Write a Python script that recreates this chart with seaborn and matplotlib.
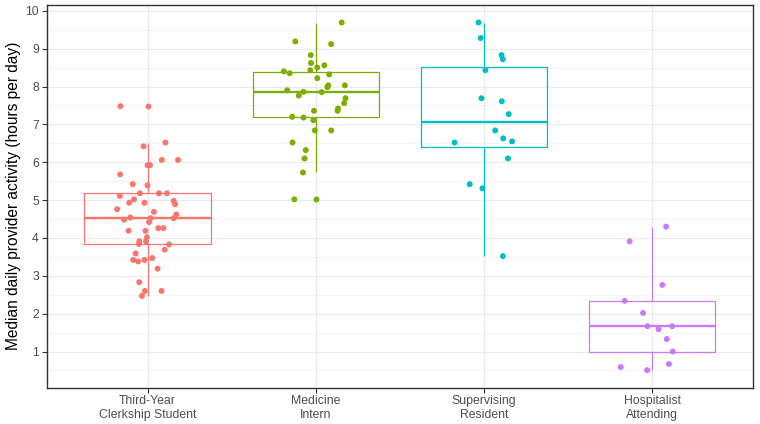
import numpy as np
import pandas as pd
import seaborn as sns
import matplotlib.pyplot as plt
from matplotlib.ticker import MultipleLocator

# Grupos y colores (paleta por defecto de ggplot)
grupos = ["Third-Year\nClerkship Student", "Medicine\nIntern",
          "Supervising\nResident", "Hospitalist\nAttending"]
colores = ["#F8766D", "#7CAE00", "#00BFC4", "#C77CFF"]

# Horas por día
estudiante = [7.48, 6.52, 6.42, 6.06, 6.06, 5.92, 5.92, 5.68, 5.42, 5.39,
              5.18, 5.18, 5.18, 5.11, 5.02, 4.98, 4.93, 4.93, 4.89, 4.76,
              4.69, 4.62, 4.54, 4.52, 4.52, 4.48, 4.42, 4.26, 4.26, 4.19,
              4.19, 4.02, 3.91, 3.91, 3.84, 3.83, 3.69, 3.59, 3.47, 3.42,
              3.42, 3.38, 3.19, 2.83, 2.60, 2.60, 2.47]
interno = [9.69, 9.19, 9.12, 8.83, 8.62, 8.56, 8.50, 8.43, 8.40, 8.35,
           8.32, 8.22, 8.03, 8.03, 7.98, 7.90, 7.86, 7.85, 7.76, 7.69,
           7.56, 7.42, 7.36, 7.36, 7.20, 7.18, 7.11, 6.84, 6.84, 6.52,
           6.32, 6.10, 5.73, 5.02]
residente = [9.69, 9.28, 8.83, 8.72, 8.43, 7.69, 7.61, 7.27, 6.84, 6.63,
             6.55, 6.52, 6.10, 5.42, 5.31, 3.52]
adjunto = [4.30, 3.91, 2.76, 2.34, 2.02, 1.67, 1.67, 1.59, 1.33, 1.00,
           0.67, 0.59, 0.51]

df = pd.DataFrame({
    "grupo": np.repeat(grupos, [len(estudiante), len(interno), len(residente), len(adjunto)]),
    "valor": estudiante + interno + residente + adjunto,
})

sns.set_style("white")
plt.rcParams['font.family'] = ['Liberation Sans', 'DejaVu Sans']

fig, ax = plt.subplots(figsize=(7.6, 4.24), dpi=100)
fig.subplots_adjust(left=0.0613, right=0.991, bottom=0.086, top=0.988)

sns.boxplot(data=df, x="grupo", y="valor", hue="grupo", order=grupos, hue_order=grupos,
            palette=colores, fill=False, width=0.75, linewidth=0.9, legend=False,
            showcaps=False, whis=1.5, fliersize=4.3,
            flierprops={"marker": "o"}, medianprops={"linewidth": 1.7}, ax=ax)

# Outliers rellenos como en ggplot
for linea in ax.lines:
    if linea.get_marker() == "o":
        linea.set_markerfacecolor(linea.get_markeredgecolor())
        linea.set_markeredgewidth(0)

np.random.seed(7)
sns.stripplot(data=df, x="grupo", y="valor", hue="grupo", order=grupos, hue_order=grupos,
              palette=colores, jitter=0.19, size=4.3, linewidth=0, legend=False,
              zorder=3, ax=ax)

ax.set_xlim(-0.6, 3.6)
ax.set_ylim(0.05, 10.15)
ax.yaxis.set_major_locator(MultipleLocator(1))
ax.yaxis.set_minor_locator(MultipleLocator(0.5))
ax.set_yticks(range(1, 11))

ax.set_axisbelow(True)
ax.grid(which="major", axis="both", color="#EBEBEB", linewidth=0.9)
ax.grid(which="minor", axis="y", color="#F2F2F2", linewidth=0.6)

for lado in ax.spines.values():
    lado.set_visible(True)
    lado.set_color("#333333")
    lado.set_linewidth(1.0)

ax.tick_params(axis="both", which="major", length=3.5, width=0.8, color="#333333",
               labelsize=8.8, labelcolor="#4D4D4D", pad=2, left=True, bottom=True)
ax.tick_params(axis="y", which="minor", length=0)

ax.set_xlabel("")
ax.set_ylabel("Median daily provider activity (hours per day)", fontsize=11.2, color="black", labelpad=3)

plt.savefig("out.png", dpi=100)
plt.close()
